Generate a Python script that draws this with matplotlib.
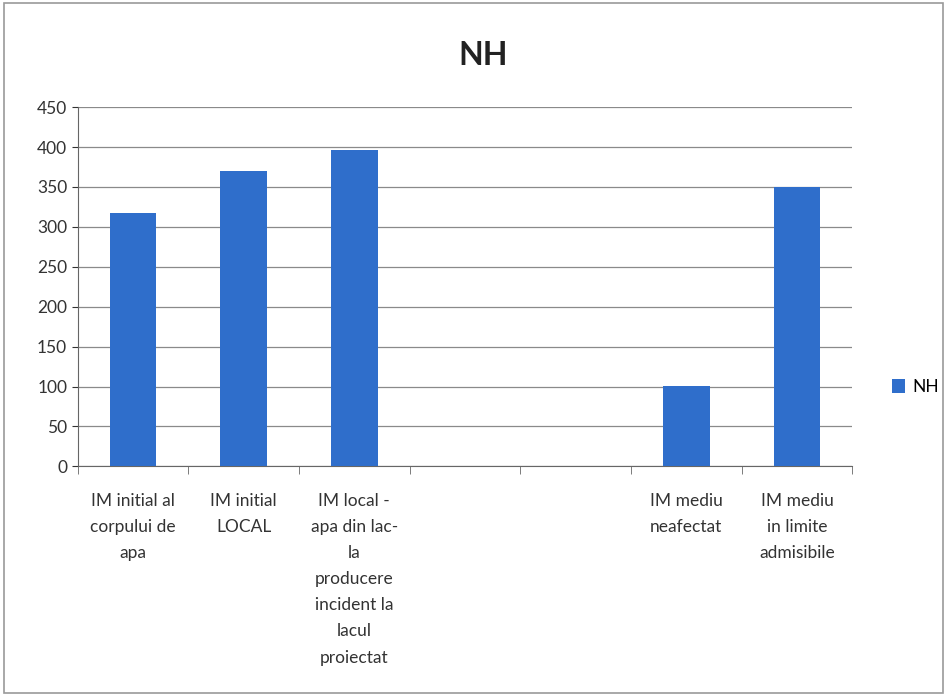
import matplotlib.pyplot as plt
import numpy as np

# NH chart
categorii = [
    "IM initial al\ncorpului de\napa",
    "IM initial\nLOCAL",
    "IM local -\napa din lac-\nla\nproducere\nincident la\nlacul\nproiectat",
    "",
    "",
    "IM mediu\nneafectat",
    "IM mediu\nin limite\nadmisibile",
]
valori_nh = [318, 370, 396, np.nan, np.nan, 101, 350]
y_ticks = list(range(0, 451, 50))

plt.rcParams['font.family'] = ['Lato', 'DejaVu Sans']

fig = plt.figure(figsize=(9.47, 6.96), dpi=100)
ax = fig.add_axes([0.082, 0.330, 0.818, 0.516])

x = np.arange(len(categorii))
ax.bar(x, valori_nh, width=0.42, color='#2F6ECB', label='NH', zorder=3)

ax.set_xlim(-0.5, len(categorii) - 0.5)
ax.set_ylim(0, 450)
ax.set_yticks(y_ticks)
ax.tick_params(axis='y', labelsize=12.5, colors='#333333', length=4)
ax.grid(axis='y', color='#8A8A8A', linewidth=0.9, zorder=0)

ax.set_xticks(x)
ax.set_xticklabels(categorii, fontsize=12.5, color='#333333', va='top',
                   ha='center', multialignment='center', linespacing=1.78)
ax.tick_params(axis='x', length=0, pad=19)
ax.set_xticks(np.arange(-0.5, len(categorii)), minor=True)
ax.tick_params(axis='x', which='minor', length=6, color='#666666')

for s in ['top', 'right']:
    ax.spines[s].set_visible(False)
for s in ['left', 'bottom']:
    ax.spines[s].set_color('#666666')

fig.text(0.51, 0.92, 'NH', fontsize=23, fontweight='bold', ha='center', va='center', color='#222222')

fig.legend(loc='center left', bbox_to_anchor=(0.925, 0.444), frameon=False,
           fontsize=12.5, handlelength=0.8, handleheight=0.8, handletextpad=0.4)

border = plt.Rectangle((0.004, 0.004), 0.992, 0.992, transform=fig.transFigure,
                       fill=False, edgecolor='#9A9A9A', linewidth=1.2)
fig.patches.append(border)

fig.savefig('out.png', dpi=100)
